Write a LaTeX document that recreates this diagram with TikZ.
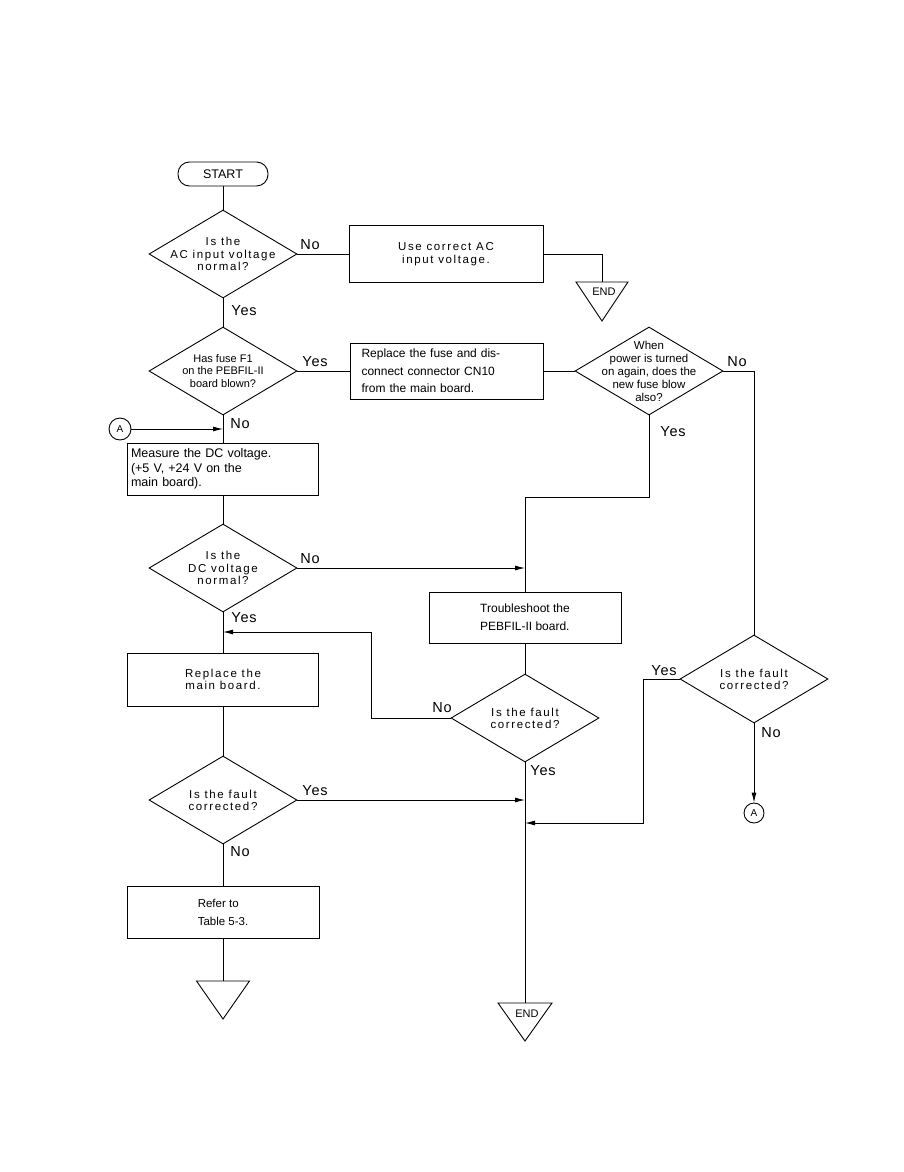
\documentclass[tikz,border=0pt]{standalone}
\usepackage{fontspec}
\setmainfont{Liberation Sans}
\newfontfamily\widefont[LetterSpace=14]{Liberation Sans}
\newfontfamily\labelfont[LetterSpace=6]{Liberation Sans}
\usetikzlibrary{arrows.meta,positioning,shapes.geometric,calc}

\tikzset{
  flowline/.style={line width=0.9pt},
  flowarrow/.style={flowline, -{Latex[length=10pt,width=5pt]}},
  procbox/.style={draw, rectangle, line width=0.9pt, inner sep=0pt},
  decision/.style={draw, diamond, line width=0.9pt, inner sep=0pt, minimum width=148pt, minimum height=88pt},
  widetext/.style={font=\widefont\fontsize{11.5}{12.2}\selectfont, align=center},
  smalltext/.style={font=\fontsize{11}{12.6}\selectfont, align=center},
  yesno/.style={font=\labelfont\fontsize{14.5}{16}\selectfont, inner sep=0pt},
  endtext/.style={font=\fontsize{11}{13}\selectfont, inner sep=0pt},
  joint/.style={draw, circle, line width=0.9pt, inner sep=0pt, font=\fontsize{10}{12}\selectfont},
}

\begin{document}
\begin{tikzpicture}[x=1pt, y=-1pt]
  \useasboundingbox (0,0) rectangle (903,1172);

  %% left column
  \node[procbox, rounded corners=11.5pt, minimum width=90pt, minimum height=24pt, font=\fontsize{12.5}{14}\selectfont] (start) at (223,174) {START};
  \node[decision, label={[widetext]center:{Is the\\AC input voltage\\normal?}}] (d1) at (223,254) {};
  \node[decision, label={[smalltext]center:{Has fuse F1\\on the PEBFIL-II\\board blown?}}] (d2) at (223,371) {};
  \node[procbox, minimum width=191pt, minimum height=52pt, text width=184pt, align=left, font=\fontsize{12.5}{14.5}\selectfont] (measure) at (223,469) {Measure the DC voltage.\\(+5 V, +24 V on the\\main board).};
  \node[decision, label={[widetext]center:{Is the\\DC voltage\\normal?}}] (d4) at (223,568) {};
  \node[procbox, minimum width=191pt, minimum height=53pt, widetext] (mainbd) at (223,679.5) {Replace the\\main board.};
  \node[decision, label={[widetext]center:{Is the fault\\corrected?}}] (d7) at (223,800) {};
  \node[procbox, minimum width=192pt, minimum height=52pt, align=left, font=\fontsize{11.5}{18}\selectfont] (refer) at (223,912) {Refer to\\Table 5-3.};
  \coordinate (end3) at (223,981);

  %% right side
  \node[procbox, minimum width=194pt, minimum height=57pt, widetext, font=\widefont\fontsize{11.5}{13}\selectfont] (acfix) at (446,254) {Use correct AC\\input voltage.};
  \coordinate (end1) at (602,282);
  \node[procbox, minimum width=193pt, minimum height=56pt, text width=170pt, align=left, font=\fontsize{12}{17.5}\selectfont] (fuse) at (446.5,371) {Replace the fuse and dis-\\connect connector CN10\\from the main board.};
  \node[decision, label={[smalltext, font=\fontsize{11.5}{13}\selectfont]center:{When\\power is turned\\on again, does the\\new fuse blow\\also?}}] (d3) at (649,371) {};
  \node[procbox, minimum width=192pt, minimum height=51pt, align=left, font=\fontsize{12}{18}\selectfont] (pebfil) at (525,617.5) {Troubleshoot the\\PEBFIL-II board.};
  \node[decision, label={[widetext]center:{Is the fault\\corrected?}}] (d6) at (525,718) {};
  \coordinate (end2) at (525,1003);
  \node[decision, label={[widetext]center:{Is the fault\\corrected?}}] (d5) at (754,679) {};

  %% off-page connectors
  \node[joint, minimum size=22pt] (ain) at (120,429) {A};
  \node[joint, minimum size=20pt] (aout) at (754,813) {A};

  %% join points
  \coordinate (yesin) at (223,632);
  \coordinate (retin) at (525,823);

  %% flow lines
  \draw[flowline] (start) -- (d1);
  \draw[flowline] (d1) -- (acfix);
  \draw[flowline] (acfix.east) -| (end1);
  \draw[flowline] (d1) -- (d2);
  \draw[flowline] (d2) -- (fuse);
  \draw[flowline] (fuse) -- (d3);
  \draw[flowline] (d3.east) -| (d5.north);
  \draw[flowline] (d3.south) -- ++(0,82) -| (pebfil.north);
  \draw[flowline] (d2) -- (measure);
  \draw[flowarrow] (ain) -- (ain -| d2.south);
  \draw[flowline] (measure) -- (d4);
  \draw[flowarrow] (d4.east) -- (d4 -| pebfil.north);
  \draw[flowline] (d4) -- (mainbd);
  \draw[flowarrow] (d6.west) -- ++(-79,0) |- (yesin);
  \draw[flowline] (mainbd) -- (d7);
  \draw[flowarrow] (d7.east) -- (d7 -| d6.south);
  \draw[flowline] (d7) -- (refer);
  \draw[flowline] (refer) -- (end3);
  \draw[flowline] (pebfil) -- (d6);
  \draw[flowline] (d6.south) -- (end2);
  \draw[flowarrow] (d5.west) -- ++(-36,0) |- (retin);
  \draw[flowarrow] (d5) -- (aout);

  %% terminals
  \draw[flowline] (end1) ++(-26,0) -- ++(52,0) -- ++(-26,39) -- cycle;
  \node[endtext] (end1lbl) at (604,292) {END};
  \draw[flowline] (end2) ++(-27,0) -- ++(54,0) -- ++(-27,38) -- cycle;
  \node[endtext] (end2lbl) at (527,1014) {END};
  \draw[flowline] (end3) ++(-26.5,0) -- ++(53,0) -- ++(-26.5,38) -- cycle;

  %% yes / no labels
  \node[yesno] (d1no) at (310,245) {No};
  \node[yesno] (d1yes) at (244,311) {Yes};
  \node[yesno] (d2yes) at (315,362) {Yes};
  \node[yesno] (d2no) at (240,424) {No};
  \node[yesno] (d3no) at (737,362) {No};
  \node[yesno] (d3yes) at (673,432) {Yes};
  \node[yesno] (d4no) at (310,559) {No};
  \node[yesno] (d4yes) at (244,618) {Yes};
  \node[yesno] (d6no) at (442,708) {No};
  \node[yesno] (d6yes) at (543,771) {Yes};
  \node[yesno] (d7yes) at (315,791) {Yes};
  \node[yesno] (d7no) at (240,852) {No};
  \node[yesno] (d5yes) at (664,671) {Yes};
  \node[yesno] (d5no) at (771,733) {No};
\end{tikzpicture}
\end{document}
